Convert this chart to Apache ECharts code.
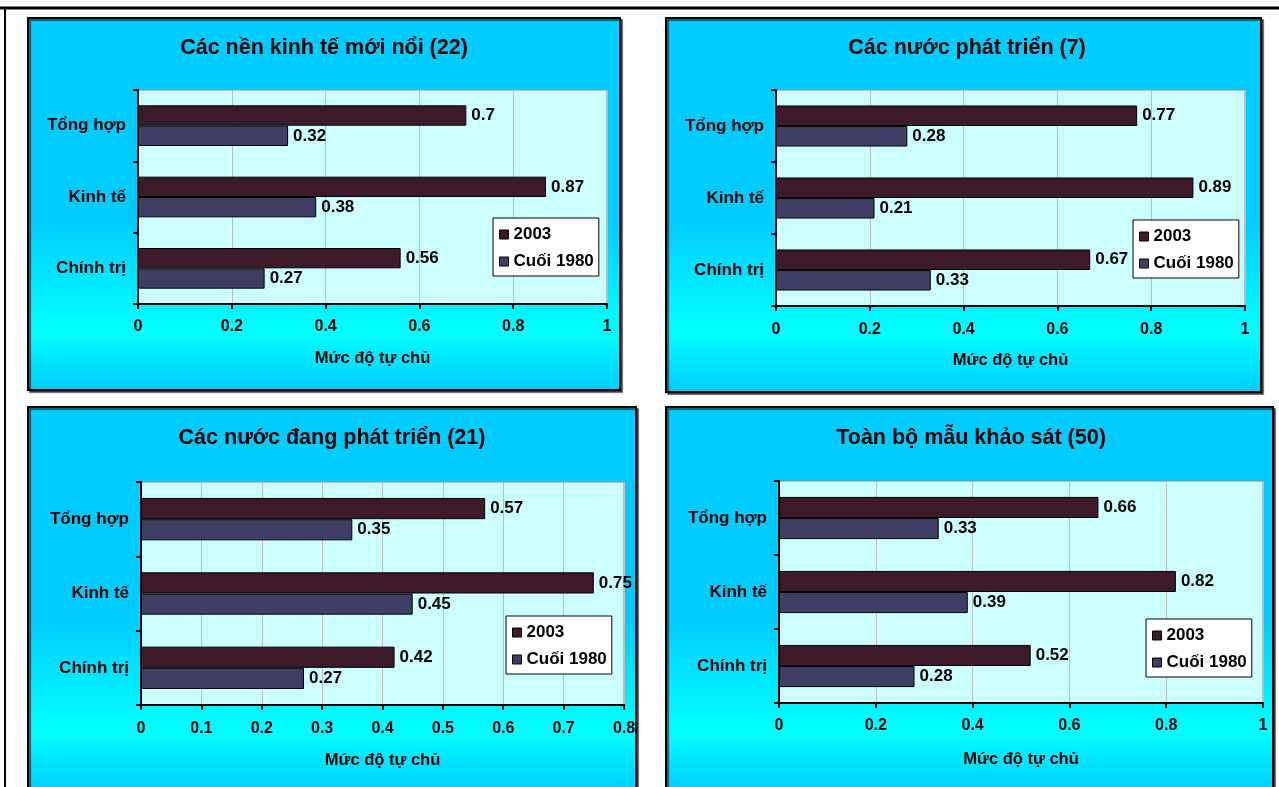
<!DOCTYPE html>
<html>
<head>
<meta charset="utf-8">
<script src="https://cdn.jsdelivr.net/npm/echarts@6/dist/echarts.min.js"></script>
<style>
html,body{margin:0;padding:0;background:#fff;}
#chart{width:1279px;height:787px;}
</style>
</head>
<body>
<div id="chart"></div>
<script>
// ---- data ----
const categories = ['Chính trị', 'Kinh tế', 'Tổng hợp'];
const seriesNames = ['2003', 'Cuối 1980'];
const panelTitles = ['Các nền kinh tế mới nổi (22)', 'Các nước phát triển (7)', 'Các nước đang phát triển (21)', 'Toàn bộ mẫu khảo sát (50)'];
const axisTitle = 'Mức độ tự chủ';
const emerging2003 = [0.56, 0.87, 0.7];
const emerging1980 = [0.27, 0.38, 0.32];
const developed2003 = [0.67, 0.89, 0.77];
const developed1980 = [0.33, 0.21, 0.28];
const developing2003 = [0.42, 0.75, 0.57];
const developing1980 = [0.27, 0.45, 0.35];
const all2003 = [0.52, 0.82, 0.66];
const all1980 = [0.28, 0.39, 0.33];
const axisMax = [1, 1, 0.8, 1];
const axisStep = [0.2, 0.2, 0.1, 0.2];

// ---- layout / style ----
const FONT = "'Liberation Sans', Arial, sans-serif";
const C2003 = '#3d1a2a';
const C1980 = '#3f3e63';
const layout = [
  {rect:[28,18,592,372],  grid:{left:138, top:90,  width:469, height:214}, tx:324, ty:37,  lg:{left:493, top:218}, lm:15, ng:46},
  {rect:[666,18,595,374], grid:{left:776, top:90,  width:469, height:216}, tx:967, ty:37,  lg:{left:1133, top:220}, lm:16, ng:46},
  {rect:[28,407,608,385], grid:{left:141, top:482, width:483, height:223}, tx:332, ty:427, lg:{left:506, top:616}, lm:16, ng:47},
  {rect:[666,407,607,385],grid:{left:779, top:481, width:484, height:222}, tx:971, ty:427, lg:{left:1146, top:619}, lm:15, ng:48}
];
const data2003 = [emerging2003, developed2003, developing2003, all2003];
const data1980 = [emerging1980, developed1980, developing1980, all1980];

const chart = echarts.init(document.getElementById('chart'));

const graphics = [];
layout.forEach(p => {
  graphics.push({
    type: 'rect', z: -10,
    shape: {x: p.rect[0], y: p.rect[1], width: p.rect[2], height: p.rect[3]},
    style: {
      fill: {type:'linear', x:0, y:0, x2:0, y2:1, colorStops:[
        {offset:0, color:'#00ccff'}, {offset:0.55, color:'#00ccff'},
        {offset:0.84, color:'#00ffff'}, {offset:1, color:'#00ccff'}]},
      stroke: '#000', lineWidth: 2,
      shadowColor: 'rgba(0,0,0,0.55)', shadowOffsetX: 2, shadowOffsetY: 2, shadowBlur: 1
    }
  });
});
graphics.push({type:'line', z:-5, shape:{x1:0, y1:8, x2:1279, y2:8}, style:{stroke:'#000', lineWidth:3}});
graphics.push({type:'line', z:-5, shape:{x1:5, y1:8, x2:5, y2:787}, style:{stroke:'#000', lineWidth:2}});

const option = {
  animation: false,
  graphic: graphics,
  title: layout.map((p, i) => ({
    text: panelTitles[i], left: p.tx, top: p.ty, textAlign: 'center', padding: 0,
    textStyle: {fontFamily: FONT, fontWeight: 'bold', fontSize: 21.5, color: '#000'}
  })),
  legend: layout.map(p => ({
    data: seriesNames, orient: 'vertical', left: p.lg.left, top: p.lg.top,
    backgroundColor: '#fff', borderColor: '#000', borderWidth: 1,
    padding: [8, 5, 6, 6], itemGap: 10, itemWidth: 9, itemHeight: 9, icon: 'rect',
    selectedMode: false,
    itemStyle: {borderColor: '#000', borderWidth: 1},
    textStyle: {fontFamily: FONT, fontWeight: 'bold', fontSize: 17, color: '#000'}
  })),
  grid: layout.map(p => Object.assign({
    show: true, backgroundColor: '#ccffff', borderColor: '#8c8c8c', borderWidth: 1, containLabel: false
  }, p.grid)),
  xAxis: layout.map((p, i) => ({
    type: 'value', gridIndex: i, min: 0, max: axisMax[i], interval: axisStep[i],
    name: axisTitle, nameLocation: 'middle', nameGap: p.ng,
    nameTextStyle: {fontFamily: FONT, fontWeight: 'bold', fontSize: 16.5, color: '#000'},
    axisLine: {show: true, lineStyle: {color: '#000', width: 2}},
    axisTick: {show: true, length: 5, lineStyle: {color: '#000', width: 2}},
    axisLabel: {margin: p.lm, fontFamily: FONT, fontWeight: 'bold', fontSize: 16, color: '#000'},
    splitLine: {show: true, lineStyle: {color: '#bdbdbd', width: 1}}
  })),
  yAxis: layout.map((p, i) => ({
    type: 'category', gridIndex: i, data: categories,
    axisLine: {show: true, lineStyle: {color: '#000', width: 2}},
    axisTick: {show: true, length: 5, lineStyle: {color: '#000', width: 2}},
    axisLabel: {margin: 12, fontFamily: FONT, fontWeight: 'bold', fontSize: 17, color: '#000'},
    splitLine: {show: false}
  })),
  series: []
};

layout.forEach((p, i) => {
  [data2003[i], data1980[i]].forEach((vals, k) => {
    option.series.push({
      type: 'bar', name: seriesNames[k], xAxisIndex: i, yAxisIndex: i, data: vals,
      barGap: '0%', barCategoryGap: '43%',
      itemStyle: {color: k === 0 ? C2003 : C1980, borderColor: '#000', borderWidth: 1},
      label: {show: true, position: 'right', distance: 5,
        fontFamily: FONT, fontWeight: 'bold', fontSize: 17, color: '#000'}
    });
  });
});

chart.setOption(option);
</script>
</body>
</html>
